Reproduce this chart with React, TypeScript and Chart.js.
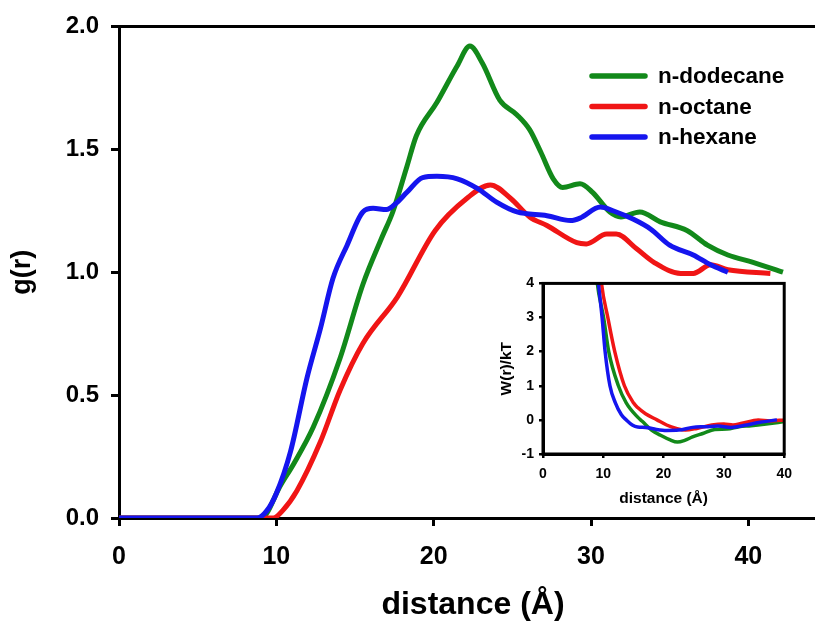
import React, { useEffect, useRef } from 'react';
import { Chart, registerables } from 'chart.js';

Chart.register(...registerables);

const FONT = "'Liberation Sans', Arial, Helvetica, sans-serif";

// ---- main g(r) data ----
const dodecaneX = [0, 9.1, 9.4, 10.2, 11.1, 12.35, 14.05, 15.5, 16.7, 17.4, 18.3, 18.9, 20.2, 21.5, 22.3, 23.1, 24.2, 25.3, 26.1, 26.8, 27.6, 28.2, 29.3, 30.1, 31.2, 31.9, 33.1, 34.4, 36.1, 37.4, 38.7, 40.3, 42.2];
const dodecaneY = [0, 0, 0.02, 0.125, 0.22, 0.37, 0.65, 0.95, 1.14, 1.245, 1.43, 1.555, 1.69, 1.84, 1.92, 1.85, 1.70, 1.64, 1.58, 1.49, 1.38, 1.345, 1.36, 1.325, 1.245, 1.225, 1.245, 1.205, 1.17, 1.11, 1.07, 1.04, 1.0];

const octaneX = [0, 9.8, 10.4, 11.3, 12.8, 14.05, 15.5, 17.7, 20.1, 22.1, 23.6, 24.9, 26.1, 27.2, 29.1, 29.7, 31.0, 31.6, 32.9, 34.0, 35.7, 36.5, 37.6, 38.7, 41.4];
const octaneY = [0, 0, 0.03, 0.11, 0.31, 0.52, 0.71, 0.9, 1.17, 1.30, 1.355, 1.30, 1.225, 1.19, 1.12, 1.115, 1.155, 1.155, 1.095, 1.04, 0.995, 0.995, 1.03, 1.01, 0.995];

const hexaneX = [0, 8.8, 9.4, 10.0, 10.9, 11.95, 12.8, 13.6, 14.5, 15.5, 16.15, 17.0, 17.6, 18.3, 19.3, 20.2, 21.5, 22.8, 24.0, 25.3, 27.2, 28.7, 29.3, 30.6, 31.4, 32.7, 33.8, 35.0, 36.5, 37.6, 38.7];
const hexaneY = [0, 0, 0.03, 0.10, 0.27, 0.57, 0.77, 0.975, 1.11, 1.245, 1.26, 1.255, 1.28, 1.325, 1.385, 1.39, 1.38, 1.34, 1.285, 1.245, 1.23, 1.21, 1.22, 1.265, 1.25, 1.215, 1.175, 1.11, 1.07, 1.03, 1.0];

// ---- inset W(r)/kT data ----
const dodecaneWX = [8.7, 9.0, 10.05, 10.9, 12.5, 13.8, 15.7, 16.5, 18.0, 19.5, 21.0, 22.3, 23.5, 24.8, 26.5, 28.5, 30.5, 32.5, 34.5, 37.0, 40.0];
const dodecaneWY = [4.6, 4.0, 3.0, 2.0, 1.0, 0.5, 0.08, -0.05, -0.3, -0.45, -0.58, -0.65, -0.6, -0.5, -0.4, -0.28, -0.27, -0.2, -0.17, -0.12, -0.05];

const octaneWX = [9.4, 9.7, 10.75, 11.9, 13.5, 15.0, 15.7, 17.0, 18.9, 20.5, 22.1, 23.6, 25.5, 28.0, 30.0, 31.5, 33.0, 35.7, 37.6, 40.0];
const octaneWY = [4.6, 4.0, 3.0, 2.0, 1.0, 0.5, 0.36, 0.18, 0.0, -0.15, -0.25, -0.3, -0.25, -0.15, -0.12, -0.15, -0.1, 0.0, -0.03, 0.0];

const hexaneWX = [8.9, 9.2, 9.8, 10.3, 11.1, 12.0, 13.0, 13.8, 14.8, 15.7, 17.0, 18.5, 20.5, 22.5, 24.8, 27.0, 29.0, 31.2, 33.5, 36.0, 38.8];
const hexaneWY = [4.6, 4.0, 3.0, 2.0, 1.0, 0.5, 0.15, 0.0, -0.15, -0.21, -0.22, -0.27, -0.31, -0.3, -0.22, -0.2, -0.18, -0.22, -0.16, -0.07, 0.0];

const seriesNames = ['n-dodecane', 'n-octane', 'n-hexane'];
const seriesColors = ['#12891a', '#f01515', '#1515ee'];

const mainXTicks = [0, 10, 20, 30, 40];
const mainYTicks = [0, 0.5, 1.0, 1.5, 2.0];
const insetXTicks = [0, 10, 20, 30, 40];
const insetYTicks = [-1, 0, 1, 2, 3, 4];

const pts = (xs: number[], ys: number[]) => xs.map((x, i) => ({ x, y: ys[i] }));

const mainBorderPlugin = {
  id: 'mainBorder',
  afterDraw(chart: any) {
    const { ctx, chartArea } = chart;
    ctx.save();
    ctx.strokeStyle = '#000';
    ctx.lineWidth = 3;
    ctx.beginPath();
    ctx.moveTo(chartArea.left, chartArea.top);
    ctx.lineTo(chartArea.right, chartArea.top);
    ctx.stroke();
    ctx.restore();
  },
};

const mainLegendPlugin = {
  id: 'mainLegend',
  afterDraw(chart: any) {
    const { ctx } = chart;
    ctx.save();
    ctx.font = `bold 22.5px ${FONT}`;
    ctx.textBaseline = 'middle';
    ctx.textAlign = 'left';
    seriesNames.forEach((name, i) => {
      const y = 76 + i * 30.5;
      ctx.strokeStyle = seriesColors[i];
      ctx.lineWidth = 5.5;
      ctx.lineCap = 'round';
      ctx.beginPath();
      ctx.moveTo(592, y);
      ctx.lineTo(645, y);
      ctx.stroke();
      ctx.fillStyle = '#000';
      ctx.fillText(name, 658, y + 1);
    });
    ctx.restore();
  },
};

const insetBoxPlugin = {
  id: 'insetBox',
  beforeDraw(chart: any) {
    const { ctx, chartArea } = chart;
    ctx.save();
    ctx.fillStyle = '#fff';
    ctx.fillRect(chartArea.left, chartArea.top, chartArea.right - chartArea.left, chartArea.bottom - chartArea.top);
    ctx.restore();
  },
  afterDraw(chart: any) {
    const { ctx, chartArea } = chart;
    ctx.save();
    ctx.strokeStyle = '#000';
    ctx.lineWidth = 3;
    ctx.strokeRect(chartArea.left, chartArea.top, chartArea.right - chartArea.left, chartArea.bottom - chartArea.top);
    ctx.restore();
  },
};

function makeDatasets(sets: { x: number[]; y: number[] }[], width: number) {
  return sets.map((s, i) => ({
    label: seriesNames[i],
    data: pts(s.x, s.y),
    borderColor: seriesColors[i],
    backgroundColor: seriesColors[i],
    borderWidth: width,
    pointRadius: 0,
    fill: false,
    cubicInterpolationMode: 'monotone' as const,
    order: 2 - i,
  }));
}

export default function App() {
  const mainRef = useRef<HTMLCanvasElement>(null);
  const insetRef = useRef<HTMLCanvasElement>(null);

  useEffect(() => {
    if (!mainRef.current || !insetRef.current) return;
    const tickFontMain = { family: FONT, size: 25, weight: 'bold' as const };
    const main = new Chart(mainRef.current, {
      type: 'line',
      data: {
        datasets: makeDatasets(
          [
            { x: dodecaneX, y: dodecaneY },
            { x: octaneX, y: octaneY },
            { x: hexaneX, y: hexaneY },
          ],
          5
        ) as any,
      },
      options: {
        responsive: false,
        animation: false,
        layout: { padding: { top: 22, right: 0, left: 0, bottom: 0 } },
        plugins: { legend: { display: false }, tooltip: { enabled: false } },
        scales: {
          x: {
            type: 'linear',
            min: 0,
            max: 45,
            afterBuildTicks: (s: any) => {
              s.ticks = mainXTicks.map((v) => ({ value: v }));
            },
            afterFit: (s: any) => {
              s.height = 104;
            },
            grid: { drawOnChartArea: false, drawTicks: true, tickLength: 8, color: '#000', lineWidth: 3 },
            border: { display: true, color: '#000', width: 3 },
            ticks: { color: '#000', font: tickFontMain, padding: 16, maxRotation: 0, autoSkip: false },
            title: {
              display: true,
              text: 'distance (Å)',
              color: '#000',
              font: { family: FONT, size: 32, weight: 'bold', lineHeight: 1 },
              padding: { top: 0, bottom: 1 },
            },
          },
          y: {
            type: 'linear',
            min: 0,
            max: 2,
            afterBuildTicks: (s: any) => {
              s.ticks = mainYTicks.map((v) => ({ value: v }));
            },
            afterFit: (s: any) => {
              s.width = 119;
            },
            grid: { drawOnChartArea: false, drawTicks: true, tickLength: 8, color: '#000', lineWidth: 3 },
            border: { display: true, color: '#000', width: 3 },
            ticks: {
              color: '#000',
              font: { family: FONT, size: 24, weight: 'bold' },
              padding: 12,
              autoSkip: false,
              callback: (v: any) => Number(v).toFixed(1),
            },
            title: {
              display: true,
              text: 'g(r)',
              color: '#000',
              font: { family: FONT, size: 27, weight: 'bold', lineHeight: 1 },
              padding: { top: 9.5, bottom: 0 },
            },
          },
        },
      },
      plugins: [mainBorderPlugin, mainLegendPlugin],
    });

    const inset = new Chart(insetRef.current, {
      type: 'line',
      data: {
        datasets: makeDatasets(
          [
            { x: dodecaneWX, y: dodecaneWY },
            { x: octaneWX, y: octaneWY },
            { x: hexaneWX, y: hexaneWY },
          ],
          3.5
        ) as any,
      },
      options: {
        responsive: false,
        animation: false,
        layout: { padding: { top: 11, right: 9, left: 0, bottom: 0 } },
        plugins: { legend: { display: false }, tooltip: { enabled: false } },
        scales: {
          x: {
            type: 'linear',
            min: 0,
            max: 40,
            afterBuildTicks: (s: any) => {
              s.ticks = insetXTicks.map((v) => ({ value: v }));
            },
            afterFit: (s: any) => {
              s.height = 56;
            },
            grid: { drawOnChartArea: false, drawTicks: true, tickLength: 4, color: '#000', lineWidth: 2.5 },
            border: { display: true, color: '#000', width: 3 },
            ticks: { color: '#000', font: { family: FONT, size: 14, weight: 'bold' }, padding: 8, maxRotation: 0, autoSkip: false },
            title: {
              display: true,
              text: 'distance (Å)',
              color: '#000',
              font: { family: FONT, size: 15.5, weight: 'bold', lineHeight: 1 },
              padding: { top: 0, bottom: 3.5 },
            },
          },
          y: {
            type: 'linear',
            min: -1,
            max: 4,
            afterBuildTicks: (s: any) => {
              s.ticks = insetYTicks.map((v) => ({ value: v }));
            },
            afterFit: (s: any) => {
              s.width = 73;
            },
            grid: { drawOnChartArea: false, drawTicks: true, tickLength: 4, color: '#000', lineWidth: 2.5 },
            border: { display: true, color: '#000', width: 3 },
            ticks: { color: '#000', font: { family: FONT, size: 14, weight: 'bold' }, padding: 5, autoSkip: false },
            title: {
              display: true,
              text: 'W(r)/kT',
              color: '#000',
              font: { family: FONT, size: 15.5, weight: 'bold', lineHeight: 1 },
              padding: { top: 28.5, bottom: 0 },
            },
          },
        },
      },
      plugins: [insetBoxPlugin],
    });

    return () => {
      main.destroy();
      inset.destroy();
    };
  }, []);

  return (
    <div style={{ position: 'absolute', left: 0, top: 0, width: 815, height: 622, overflow: 'hidden', background: '#fff' }}>
      <canvas ref={mainRef} width={827} height={622} style={{ position: 'absolute', left: 0, top: 0, width: 827, height: 622 }} />
      <canvas ref={insetRef} width={330} height={240} style={{ position: 'absolute', left: 470, top: 270, width: 330, height: 240 }} />
    </div>
  );
}
